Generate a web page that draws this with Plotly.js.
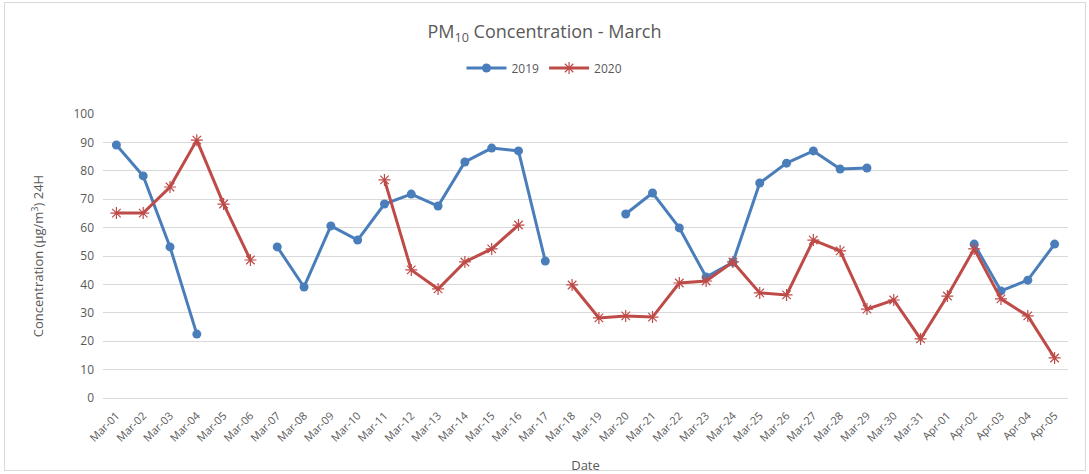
<!DOCTYPE html>
<html>
<head>
<meta charset="utf-8">
<script src="https://cdn.plot.ly/plotly-3.0.1.min.js"></script>
<style>
  html, body { margin: 0; padding: 0; background: #fff; }
  #wrap { position: relative; width: 1089px; height: 474px; }
  #chart { position: absolute; left: 0; top: 0; width: 1089px; height: 474px; }
  #frame { position: absolute; left: 4px; top: 2px; width: 1080px; height: 467px; border: 1px solid #d9d9d9; pointer-events: none; }
</style>
</head>
<body>
<div id="wrap"><div id="chart"></div><div id="frame"></div></div>
<script>
const dates = ["Mar-01","Mar-02","Mar-03","Mar-04","Mar-05","Mar-06","Mar-07","Mar-08","Mar-09","Mar-10",
  "Mar-11","Mar-12","Mar-13","Mar-14","Mar-15","Mar-16","Mar-17","Mar-18","Mar-19","Mar-20",
  "Mar-21","Mar-22","Mar-23","Mar-24","Mar-25","Mar-26","Mar-27","Mar-28","Mar-29","Mar-30",
  "Mar-31","Apr-01","Apr-02","Apr-03","Apr-04","Apr-05"];
const values2019 = [89.1, 78.2, 53.2, 22.5, null, null, 53.2, 39.1, 60.6, 55.6,
  68.3, 71.8, 67.6, 83.1, 88.0, 87.0, 48.2, null, null, 64.8,
  72.2, 59.9, 42.6, 47.8, 75.7, 82.7, 87.0, 80.6, 81.0, null,
  null, null, 54.2, 37.7, 41.5, 54.2];
const values2020 = [65.1, 65.1, 74.3, 90.8, 68.3, 48.6, null, null, null, null,
  76.8, 45.1, 38.4, 47.9, 52.5, 60.9, null, 39.8, 28.2, 28.9,
  28.5, 40.5, 41.2, 47.9, 37.0, 36.3, 55.6, 51.8, 31.3, 34.5,
  20.8, 35.9, 52.5, 34.9, 28.9, 14.1];

const font = "Open Sans, Liberation Sans, sans-serif";
const traces = [
  {x: dates, y: values2019, name: "2019", type: "scatter", mode: "lines+markers",
   connectgaps: false,
   line: {color: "#4a7ebb", width: 3},
   marker: {symbol: "circle", size: 9, color: "#4a7ebb"}},
  {x: dates, y: values2020, name: "2020", type: "scatter", mode: "lines+markers",
   connectgaps: false,
   line: {color: "#be4b48", width: 3},
   marker: {symbol: "asterisk-open", size: 10, color: "#be4b48", line: {color: "#be4b48", width: 1.2}}}
];
const layout = {
  width: 1089, height: 474,
  margin: {l: 103, r: 21, t: 114, b: 76},
  paper_bgcolor: "#ffffff", plot_bgcolor: "#ffffff",
  font: {family: font, color: "#595959", size: 11},
  title: {text: "PM<sub>10</sub> Concentration - March", x: 0.5, xref: "container", xanchor: "center",
          y: 1 - 32/474, yref: "container", yanchor: "middle",
          font: {family: font, size: 18, color: "#595959"}},
  showlegend: true,
  legend: {orientation: "h", x: 0.5, xref: "container", xanchor: "center",
           y: 1 - 68/474, yref: "container", yanchor: "middle",
           font: {family: font, size: 12, color: "#595959"}, itemwidth: 40, tracegroupgap: 0},
  xaxis: {type: "category", range: [-0.5, 35.5], tickangle: -45, automargin: false,
          showgrid: false, showline: true, linecolor: "#d9d9d9", linewidth: 1,
          ticks: "", ticklabelstandoff: 6, tickfont: {family: font, size: 11, color: "#595959"},
          title: {text: "Date", standoff: 22, font: {family: font, size: 13, color: "#595959"}}},
  yaxis: {range: [0, 100], dtick: 10, automargin: false, showgrid: true, gridcolor: "#d9d9d9", gridwidth: 1,
          zeroline: true, zerolinecolor: "#d9d9d9", zerolinewidth: 1, showline: false, ticks: "",
          ticklen: 0, ticklabelstandoff: 8, tickfont: {family: font, size: 12, color: "#595959"},
          title: {text: "Concentration (µg/m<sup>3</sup>) 24H", standoff: 26, font: {family: font, size: 13, color: "#595959"}}}
};
Plotly.newPlot("chart", traces, layout, {displayModeBar: false, staticPlot: true});
</script>
</body>
</html>
